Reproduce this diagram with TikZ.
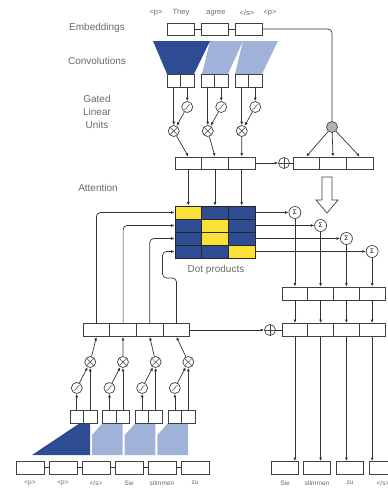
\documentclass[tikz,border=0pt]{standalone}
\usepackage{fontspec}
\setmainfont{Liberation Sans}
\usetikzlibrary{positioning, arrows.meta, calc}

\definecolor{darkblue}{RGB}{45,76,148}
\definecolor{lightblue}{RGB}{160,178,215}
\definecolor{cellyellow}{RGB}{250,225,55}
\definecolor{labelgray}{RGB}{105,105,105}

\begin{document}
\begin{tikzpicture}[x=1pt, y=-1pt,
        box/.style={rectangle, draw=black!75, fill=white, line width=0.9pt, minimum width=27pt, minimum height=12pt, inner sep=0pt},
        half/.style={box, minimum width=13.5pt, minimum height=13pt},
        cell/.style={rectangle, draw=black!85, line width=0.8pt, minimum width=26.7pt, minimum height=13pt, inner sep=0pt},
        op/.style={circle, draw=black!75, fill=white, line width=0.7pt, minimum size=11pt, inner sep=0pt},
        sigm/.style={op, path picture={\draw[line width=0.5pt] ([shift={(-3pt,-2.5pt)}]path picture bounding box.center) .. controls +(3.5pt,0pt) and +(-3.5pt,0pt) .. ([shift={(3pt,2.5pt)}]path picture bounding box.center);}},
        mulop/.style={op, path picture={\draw[line width=0.5pt] (path picture bounding box.north west) -- (path picture bounding box.south east) (path picture bounding box.north east) -- (path picture bounding box.south west);}},
        addop/.style={op, path picture={\draw[line width=0.5pt] (path picture bounding box.north) -- (path picture bounding box.south) (path picture bounding box.west) -- (path picture bounding box.east);}},
        sumop/.style={op, minimum size=12pt, font=\fontsize{6.5}{6.5}\selectfont},
        lbl/.style={text=labelgray, font=\fontsize{10}{13}\selectfont, align=center},
        word/.style={text=labelgray, font=\fontsize{7.5}{8}\selectfont, inner sep=0pt},
        tinyword/.style={text=labelgray, font=\fontsize{6.5}{7}\selectfont, inner sep=0pt},
        arrow/.style={-{Latex[length=3.5pt, width=3pt]}, line width=0.7pt, draw=black!80},
        link/.style={line width=0.7pt, draw=black!80}
    ]
    \useasboundingbox (0,0) rectangle (388,488);

    % left hand labels
    \node[lbl] (lemb) at (97,28) {Embeddings};
    \node[lbl] (lconv) at (97,61) {Convolutions};
    \node[lbl] (lglu) at (97,112) {Gated\\Linear\\Units};
    \node[lbl] (latt) at (98,188) {Attention};

    % encoder: source words and embeddings
    \node[word] (sp0) at (156,13) {<p>};
    \node[word] (sw1) at (181,13) {They};
    \node[word] (sw2) at (216,13) {agree};
    \node[word] (sw3) at (247,13) {</s>};
    \node[word] (sp4) at (270,13) {<p>};
    \foreach \k/\cx in {1/180.5, 2/214.5, 3/248.5}
        \node[box] (e\k) at (\cx,29) {};
    \draw[link] (e1) -- (e2);
    \draw[link] (e2) -- (e3);

    % encoder convolutions
    \fill[lightblue] (243,41) -- (278,41) -- (262,74) -- (235,74) -- cycle;
    \fill[lightblue] (210,41) -- (243,41) -- (228,74) -- (202,74) -- cycle;
    \fill[darkblue] (153,41) -- (210,41) -- (194,74) -- (167,74) -- cycle;

    % encoder gated linear units
    \foreach \k/\px in {1/167, 2/201, 3/235} {
        \node[half] (ga\k) at ({\px+6.75},80.5) {};
        \node[half] (gb\k) at ({\px+20.25},80.5) {};
        \node[sigm] (es\k) at ({\px+20.25},107) {};
        \node[mulop] (em\k) at ({\px+6.75},131) {};
    }
    \foreach \k/\cx in {1/188.3, 2/215, 3/241.7}
        \node[box, minimum width=26.7pt] (z\k) at (\cx,163) {};
    \foreach \k in {1,2,3} {
        \draw[arrow] (gb\k) -- (es\k);
        \draw[arrow] (es\k) -- (em\k);
        \draw[arrow] (ga\k) -- (em\k);
        \draw[arrow] (em\k) -- (z\k.north);
    }

    % encoder output plus embeddings
    \node[addop] (ep) at (284,163) {};
    \foreach \k/\cx in {1/306.3, 2/333, 3/359.7}
        \node[box, minimum width=26.7pt] (ze\k) at (\cx,163) {};
    \node[op, fill=gray!60] (eg) at (332,127) {};
    \draw[link, rounded corners=4pt] (e3.east) -| (eg.north);
    \foreach \k in {1,2,3}
        \draw[arrow] (eg) -- (ze\k.north);
    \draw[arrow] (z3) -- (ep);
    \draw[link] (ep) -- (ze1);
    \draw[line width=0.7pt, draw=black!75, fill=white] (322,177) -- (332,177) -- (332,200) -- (338,200)
        -- (327,213) -- (316,200) -- (322,200) -- cycle;

    % dot products
    \foreach \r/\yc in {1/1, 2/2, 3/2, 4/3}
        \foreach \c in {1,2,3} {
            \ifnum\c=\yc \def\cellcol{cellyellow}\else\def\cellcol{darkblue}\fi
            \node[cell, fill=\cellcol] (c\r\c) at ({161.6+26.7*\c},{199.5+13*\r}) {};
        }
    \node[lbl] (ldot) at (216,270) {Dot products};
    \foreach \k in {1,2,3}
        \draw[arrow] (z\k) -- (c1\k.north);

    % attention sums and conditional inputs
    \foreach \k/\cx in {1/294.9, 2/320.6, 3/346.4, 4/372.1} {
        \node[sumop] (s\k) at (\cx,{199.5+13*\k}) {Σ};
        \node[box, minimum width=25.75pt, minimum height=13pt] (a\k) at (\cx,293.5) {};
        \node[box, minimum width=25.75pt, minimum height=13pt] (h\k) at (\cx,330) {};
    }
    \node[addop] (dp) at (270,330) {};
    \foreach \k in {1,2,3,4} {
        \draw[arrow] (c\k3) -- (s\k);
        \draw[arrow] (s\k) -- (a\k);
        \draw[arrow] (a\k) -- (h\k);
    }
    \draw[link] (dp) -- (h1);

    % target words
    \foreach \k/\cx/\txt in {1/285/Sie, 2/317/stimmen, 3/350/zu, 4/383/{</s>}} {
        \node[box, minimum width=27pt, minimum height=13pt] (t\k) at (\cx,468) {};
        \node[tinyword] (tw\k) at (\cx,483) {\txt};
        \draw[arrow] (h\k.south) -- (h\k.south |- t\k.north);
    }

    % decoder: input words and embeddings
    \foreach \k/\cx/\txt in {1/30/{<p>}, 2/63/{<p>}, 3/96/{</s>}, 4/129/Sie, 5/162/stimmen, 6/195/zu} {
        \node[box, minimum width=28pt, minimum height=13pt] (x\k) at (\cx,467.5) {};
        \node[tinyword] (xw\k) at (\cx,483) {\txt};
    }
    \foreach \k [evaluate=\k as \j using int(\k+1)] in {1,...,5}
        \draw[link] (x\k) -- (x\j);

    % decoder convolutions
    \fill[darkblue] (32,455) -- (90,455) -- (90,423) -- (80,423) -- cycle;
    \fill[lightblue] (92,455) -- (122.7,455) -- (122.7,423) -- (102.7,423) -- (92,435) -- cycle;
    \fill[lightblue] (124.7,455) -- (155.4,455) -- (155.4,423) -- (135.4,423) -- (124.7,435) -- cycle;
    \fill[lightblue] (157.4,455) -- (188.1,455) -- (188.1,423) -- (168.1,423) -- (157.4,435) -- cycle;

    % decoder gated linear units
    \foreach \k/\px in {1/70, 2/102.7, 3/135.4, 4/168.1} {
        \node[half] (da\k) at ({\px+6.75},416.5) {};
        \node[half] (db\k) at ({\px+20.25},416.5) {};
        \node[sigm] (ds\k) at ({\px+6.75},388) {};
        \node[mulop] (dm\k) at ({\px+20.25},362) {};
    }
    \foreach \k/\cx in {1/96.4, 2/123.1, 3/149.8, 4/176.5}
        \node[box, minimum width=26.75pt, minimum height=13pt] (y\k) at (\cx,330) {};
    \foreach \k in {1,2,3,4} {
        \draw[arrow] (da\k) -- (ds\k);
        \draw[arrow] (ds\k) -- (dm\k);
        \draw[arrow] (db\k) -- (dm\k);
        \draw[arrow] (dm\k) -- (y\k.south);
    }
    \draw[arrow] (y4) -- (dp);

    % decoder states into the dot products
    \draw[arrow, rounded corners=4pt] (y1.north) |- (c11.west);
    \draw[arrow, rounded corners=4pt] (y2.north) |- (c21.west);
    \draw[arrow, rounded corners=4pt] (y3.north) |- (c31.west);
    \draw[arrow, rounded corners=4pt] (y4.north) -- ($(y4.north)+(0,-45)$) -| ($(c41.west)+(-12,0)$) -- (c41.west);
\end{tikzpicture}
\end{document}
